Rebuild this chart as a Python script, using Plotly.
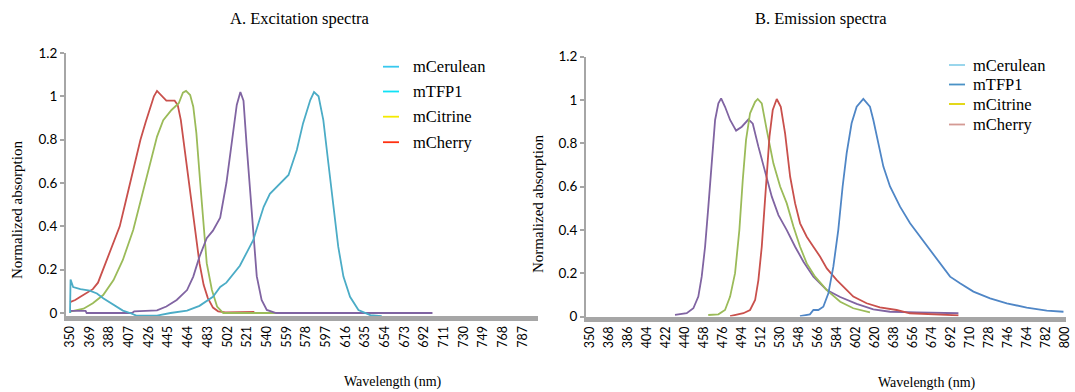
import plotly.graph_objects as go

W, H = 1075, 392

# ---------------- data: excitation (panel A) ----------------
ex_cerulean_wl = [350, 355, 360, 365, 372, 377, 382, 387, 392, 398, 403, 408, 413, 418, 423, 428, 431, 434, 437, 441, 443, 451, 454, 457, 460, 463, 467, 471, 475, 479, 483, 488, 493, 500, 515, 528]
ex_cerulean_v = [0.05, 0.06, 0.075, 0.09, 0.11, 0.14, 0.2, 0.26, 0.32, 0.4, 0.5, 0.6, 0.7, 0.8, 0.88, 0.96, 1.0, 1.025, 1.01, 0.99, 0.98, 0.98, 0.96, 0.89, 0.78, 0.68, 0.53, 0.37, 0.23, 0.13, 0.07, 0.025, 0.008, 0.003, 0.003, 0.005]

ex_tfp1_wl = [350, 363, 372, 382, 392, 401, 411, 421, 427, 434, 440, 448, 455, 459, 462, 466, 469, 472, 475.5, 479, 482, 487, 492, 498, 550]
ex_tfp1_v = [0.006, 0.02, 0.045, 0.083, 0.152, 0.245, 0.383, 0.568, 0.69, 0.814, 0.89, 0.937, 0.968, 1.017, 1.025, 1.006, 0.952, 0.83, 0.614, 0.414, 0.23, 0.106, 0.03, 0.0, 0.0]

ex_citrine_wl = [350, 365, 366, 410, 412, 434, 443, 453, 463, 469, 475, 482, 488, 495, 501, 504.5, 508, 511, 514.5, 517.5, 520.6, 525.4, 530.3, 535, 540, 549, 700]
ex_citrine_v = [0.01, 0.01, 0.0, 0.0, 0.008, 0.012, 0.03, 0.06, 0.106, 0.168, 0.26, 0.345, 0.38, 0.44, 0.6, 0.72, 0.86, 0.96, 1.02, 0.98, 0.77, 0.45, 0.17, 0.06, 0.014, 0.0, 0.0]

ex_cherry_wl = [350, 350.5, 353, 360, 369, 376, 382, 392, 401, 408, 414, 434, 447, 463, 475, 488, 495, 501, 514, 524, 527, 533, 537, 543, 553, 561, 569, 575, 582, 585.6, 590, 594.6, 599.5, 604.3, 609, 614, 620.4, 628.5, 640, 651]
ex_cherry_v = [0.0, 0.155, 0.12, 0.11, 0.103, 0.09, 0.068, 0.037, 0.011, 0.0, -0.012, -0.012, 0.0, 0.011, 0.033, 0.075, 0.12, 0.14, 0.218, 0.31, 0.337, 0.43, 0.49, 0.55, 0.6, 0.637, 0.752, 0.875, 0.983, 1.02, 1.0, 0.89, 0.69, 0.49, 0.306, 0.168, 0.075, 0.014, -0.01, -0.015]

# ---------------- data: emission (panel B) ----------------
em_cerulean_wl = [430.5, 441.6, 447.9, 452.6, 455.8, 459, 462.1, 465.3, 468.5, 471.6, 474.2, 477.9, 482.7, 488.4, 493.8, 500.1, 504.2, 509.5, 515.9, 522.2, 528.5, 536.4, 544.3, 552.2, 561.6, 574.3, 587, 602.6, 618.4, 634.2, 659.4, 699]
em_cerulean_v = [0.007, 0.015, 0.038, 0.092, 0.184, 0.322, 0.507, 0.707, 0.907, 0.984, 1.007, 0.968, 0.907, 0.858, 0.876, 0.91, 0.89, 0.784, 0.661, 0.553, 0.468, 0.399, 0.322, 0.253, 0.184, 0.122, 0.09, 0.058, 0.033, 0.022, 0.019, 0.015]

em_tfp1_wl = [462, 471.6, 477.9, 482.7, 487.4, 491.5, 494.7, 497.8, 501.6, 506.4, 508.9, 512.7, 517.4, 523.7, 530.1, 536.4, 542.7, 549, 555.3, 563.2, 574.3, 587, 599.4, 615.2]
em_tfp1_v = [0.007, 0.01, 0.03, 0.092, 0.2, 0.4, 0.63, 0.815, 0.938, 0.991, 1.004, 0.984, 0.861, 0.707, 0.6, 0.522, 0.415, 0.322, 0.245, 0.184, 0.122, 0.068, 0.038, 0.019]

em_citrine_wl = [482.7, 495.3, 501.6, 506.4, 509.5, 512.7, 514.9, 517.4, 520, 523.1, 526.9, 530.7, 534.8, 539.6, 544.3, 549, 555.3, 561.6, 568, 574.3, 583.8, 593.3, 599.4, 605.9, 612, 624.6, 640.4, 653, 678.3, 699]
em_citrine_v = [0.002, 0.015, 0.03, 0.076, 0.168, 0.322, 0.476, 0.661, 0.83, 0.953, 1.004, 0.968, 0.845, 0.645, 0.522, 0.43, 0.368, 0.322, 0.276, 0.222, 0.168, 0.122, 0.092, 0.076, 0.061, 0.042, 0.03, 0.015, 0.01, 0.005]

em_cherry_wl = [548.9, 558.3, 561.6, 566.3, 571, 575.8, 580.5, 585.2, 589.3, 593.1, 597.8, 602.6, 608.9, 615.2, 618.4, 623.1, 627.9, 634.2, 643.7, 653.2, 662.6, 672.1, 681.6, 691.1, 700.5, 713.2, 729, 744.8, 763.7, 782.7, 798.5]
em_cherry_v = [0.002, 0.01, 0.03, 0.03, 0.045, 0.107, 0.23, 0.4, 0.6, 0.753, 0.892, 0.968, 1.004, 0.968, 0.907, 0.8, 0.692, 0.6, 0.507, 0.43, 0.368, 0.307, 0.245, 0.184, 0.153, 0.115, 0.084, 0.061, 0.041, 0.027, 0.022]

# ---------------- labels ----------------
series_names = ["mCerulean", "mTFP1", "mCitrine", "mCherry"]
ex_ticks = [350, 369, 388, 407, 426, 445, 464, 483, 502, 521, 540, 559, 578, 597, 616, 635, 654, 673, 692, 711, 730, 749, 768, 787]
em_ticks = [350, 368, 386, 404, 422, 440, 458, 476, 494, 512, 530, 548, 566, 584, 602, 620, 638, 656, 674, 692, 710, 728, 746, 764, 782, 800]
y_ticks = [0, 0.2, 0.4, 0.6, 0.8, 1.0, 1.2]
y_ticktext = ["0", "0.2", "0.4", "0.6", "0.8", "1", "1.2"]

# ---------------- styles ----------------
ex_line_colors = ["#C9504C", "#9BBB59", "#8064A2", "#4BACC6"]
em_line_colors = ["#8064A2", "#9BBB59", "#C9504C", "#4F86C6"]
ex_legend_colors = ["#38C8EE", "#10E2F6", "#F4EA00", "#FF3010"]
em_legend_colors = ["#8FD2EA", "#4A92C6", "#E0D400", "#D49A94"]

SERIF = "Liberation Serif"
SANS = "Lato"

fig = go.Figure()

ex_data = [(ex_cerulean_wl, ex_cerulean_v), (ex_tfp1_wl, ex_tfp1_v), (ex_citrine_wl, ex_citrine_v), (ex_cherry_wl, ex_cherry_v)]
em_data = [(em_cerulean_wl, em_cerulean_v), (em_tfp1_wl, em_tfp1_v), (em_citrine_wl, em_citrine_v), (em_cherry_wl, em_cherry_v)]

for (xs, ys), name, col in zip(ex_data, series_names, ex_line_colors):
    fig.add_trace(go.Scatter(x=xs, y=ys, mode="lines", name=name, showlegend=False,
                             line=dict(color=col, width=1.8), xaxis="x", yaxis="y"))
for (xs, ys), name, col in zip(em_data, series_names, em_line_colors):
    fig.add_trace(go.Scatter(x=xs, y=ys, mode="lines", name=name, showlegend=False,
                             line=dict(color=col, width=1.8), xaxis="x2", yaxis="y2"))

def fx(p):
    return p / W

def fy(p):
    return 1 - p / H

axis_gray = "#A6A6A6"

def xaxis_cfg(dom, rng, ticks):
    return dict(domain=dom, range=rng, showline=True, linecolor=axis_gray, linewidth=5,
                ticks="", tickvals=ticks, ticktext=[str(t) for t in ticks], tickangle=-90,
                tickfont=dict(family=SANS, size=12.5, color="#000"), showgrid=False, zeroline=False)

def yaxis_cfg(dom, rng, anchor):
    return dict(domain=dom, range=rng, anchor=anchor, showline=True, linecolor=axis_gray, linewidth=2,
                ticks="outside", ticklen=4, tickwidth=1.5, tickcolor=axis_gray,
                tickvals=y_ticks, ticktext=y_ticktext,
                tickfont=dict(family=SANS, size=13.5, color="#000"), showgrid=False, zeroline=False)

fig.update_layout(
    width=W, height=H, margin=dict(l=0, r=0, t=0, b=0, autoexpand=False),
    paper_bgcolor="white", plot_bgcolor="white", showlegend=False,
    xaxis=dict(**xaxis_cfg([fx(66), fx(538.3)], [346.1, 802.2], ex_ticks), anchor="y"),
    yaxis=yaxis_cfg([fy(316), fy(53)], [-0.0138, 1.2], "x"),
    xaxis2=dict(**xaxis_cfg([fx(586), fx(1066)], [346.2, 800.9], em_ticks), anchor="y2"),
    yaxis2=yaxis_cfg([fy(316.5), fy(56.5)], [0, 1.2], "x2"),
)

annotations = [
    dict(text="A. Excitation spectra", x=fx(300), y=fy(19), font=dict(family=SERIF, size=16.5, color="#000")),
    dict(text="B. Emission spectra", x=fx(821), y=fy(19), font=dict(family=SERIF, size=16.5, color="#000")),
    dict(text="Normalized absorption", x=fx(17), y=fy(210), textangle=-90, font=dict(family=SERIF, size=15, color="#000")),
    dict(text="Normalized absorption", x=fx(538), y=fy(204), textangle=-90, font=dict(family=SERIF, size=15, color="#000")),
    dict(text="Wavelength (nm)", x=fx(393), y=fy(382), font=dict(family=SERIF, size=14, color="#000")),
    dict(text="Wavelength (nm)", x=fx(927), y=fy(383), font=dict(family=SERIF, size=14, color="#000")),
]
shapes = []

# manual legends
ex_leg_y = [66.7, 91.5, 116.7, 142.2]
em_leg_y = [65, 84.5, 104, 124.5]
for name, col, yy in zip(series_names, ex_legend_colors, ex_leg_y):
    shapes.append(dict(type="line", xref="paper", yref="paper", x0=fx(383), x1=fx(399), y0=fy(yy), y1=fy(yy),
                       line=dict(color=col, width=1.8)))
    annotations.append(dict(text=name, x=fx(410.5), y=fy(yy), xanchor="left",
                            font=dict(family=SERIF, size=16.5, color="#000")))
for name, col, yy in zip(series_names, em_legend_colors, em_leg_y):
    shapes.append(dict(type="line", xref="paper", yref="paper", x0=fx(949), x1=fx(965), y0=fy(yy), y1=fy(yy),
                       line=dict(color=col, width=1.8)))
    annotations.append(dict(text=name, x=fx(970.5), y=fy(yy), xanchor="left",
                            font=dict(family=SERIF, size=16.5, color="#000")))

for a in annotations:
    a.setdefault("xref", "paper")
    a.setdefault("yref", "paper")
    a.setdefault("showarrow", False)
    a.setdefault("xanchor", "center")
    a.setdefault("yanchor", "middle")

fig.update_layout(annotations=annotations, shapes=shapes)

fig.write_html("out.html", config={"displayModeBar": False},
               post_script="document.body.style.margin='0';document.body.style.overflow='hidden';")
